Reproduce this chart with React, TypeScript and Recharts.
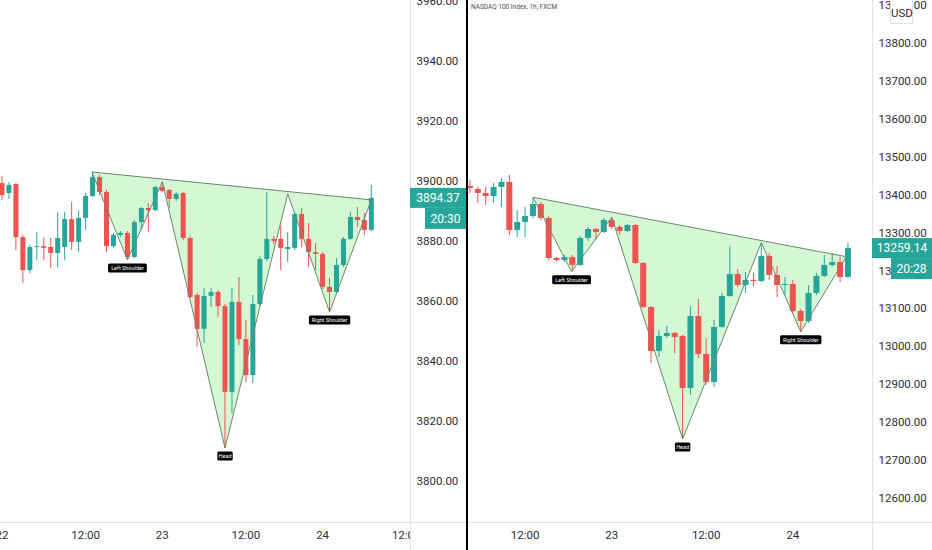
import React from "react";
import { ComposedChart, Bar, Scatter, XAxis, YAxis, ReferenceLine } from "recharts";

type Ohlc = [number, number, number, number];

const TEAL = "#26a69a";
const RED = "#ef5350";
const FILL = "#d4f7d4";
const LINE = "#6b876b";
const TEXT = "#2a2e39";
const FONT = "Roboto, 'Liberation Sans', sans-serif";

// left pane: 1h candles, 22-24 Feb (open, high, low, close)
const spxCandles: Ohlc[] = [
  [3899.3, 3901.7, 3893.7, 3895.3],
  [3896.0, 3899.7, 3894.0, 3898.7],
  [3899.0, 3899.3, 3877.0, 3881.3],
  [3881.3, 3882.0, 3866.0, 3870.3],
  [3870.3, 3878.7, 3869.3, 3878.0],
  [3878.0, 3883.0, 3873.7, 3878.3],
  [3878.3, 3881.3, 3873.7, 3877.7],
  [3878.0, 3881.0, 3871.0, 3876.0],
  [3876.0, 3889.7, 3871.3, 3881.0],
  [3878.0, 3889.7, 3873.7, 3887.3],
  [3887.3, 3893.0, 3877.0, 3879.7],
  [3879.7, 3890.3, 3876.3, 3887.7],
  [3887.7, 3896.0, 3883.7, 3895.0],
  [3895.0, 3903.0, 3894.7, 3901.3],
  [3901.3, 3902.0, 3895.3, 3896.3],
  [3896.3, 3897.0, 3876.3, 3878.3],
  [3878.3, 3882.7, 3877.7, 3882.0],
  [3882.0, 3883.3, 3881.3, 3882.7],
  [3882.7, 3883.3, 3873.7, 3874.7],
  [3874.7, 3887.0, 3874.3, 3886.3],
  [3886.3, 3891.3, 3883.7, 3891.0],
  [3891.0, 3892.7, 3883.0, 3890.3],
  [3890.3, 3898.3, 3890.0, 3898.0],
  [3898.0, 3899.7, 3896.3, 3896.7],
  [3897.0, 3897.3, 3891.0, 3894.0],
  [3894.0, 3896.3, 3893.3, 3895.7],
  [3896.0, 3896.3, 3880.3, 3881.0],
  [3881.0, 3881.7, 3861.0, 3861.3],
  [3862.0, 3862.7, 3844.7, 3850.7],
  [3850.7, 3864.3, 3846.0, 3861.7],
  [3861.7, 3864.3, 3858.0, 3863.0],
  [3863.0, 3863.7, 3854.7, 3858.3],
  [3858.3, 3859.0, 3811.0, 3829.7],
  [3829.7, 3864.3, 3822.7, 3859.7],
  [3859.7, 3868.0, 3845.3, 3847.3],
  [3847.3, 3853.7, 3833.0, 3835.3],
  [3835.3, 3862.0, 3832.7, 3859.0],
  [3859.0, 3875.0, 3858.3, 3874.0],
  [3874.0, 3896.3, 3873.3, 3880.7],
  [3880.7, 3881.7, 3879.0, 3880.0],
  [3880.7, 3885.3, 3870.3, 3877.7],
  [3877.3, 3883.0, 3873.0, 3878.0],
  [3877.7, 3889.7, 3877.0, 3889.0],
  [3889.0, 3891.0, 3878.0, 3880.7],
  [3880.7, 3886.0, 3871.3, 3876.3],
  [3876.3, 3879.3, 3870.3, 3875.7],
  [3875.7, 3876.3, 3864.0, 3864.7],
  [3864.7, 3867.7, 3856.3, 3863.0],
  [3863.0, 3874.3, 3862.7, 3872.0],
  [3872.0, 3881.3, 3871.3, 3880.7],
  [3880.7, 3889.7, 3880.3, 3888.0],
  [3888.0, 3891.3, 3884.7, 3887.0],
  [3887.0, 3889.3, 3882.0, 3883.7],
  [3883.7, 3898.7, 3883.3, 3894.37],
];
// [bar index, price] of the drawn pattern
const spxPattern: [number, number][] = [
  [12.9, 3903.0], [18, 3873.7], [23, 3899.7], [32, 3811.0], [41, 3895.7], [47, 3856.3], [53, 3893.7],
];
const spxTimeTicks = [0, 12, 23, 35, 46, 58];
const spxTimeLabels = ["22", "12:00", "23", "12:00", "24", "12:00"];
const spxPriceTicks = [3800, 3820, 3840, 3860, 3880, 3900, 3920, 3940, 3960];

// right pane: NASDAQ 100 Index, 1h, FXCM
const ndxCandles: Ohlc[] = [
  [13422.9, 13438.7, 13404.4, 13417.6],
  [13415.0, 13420.3, 13378.1, 13404.4],
  [13404.4, 13420.3, 13372.8, 13396.5],
  [13396.5, 13430.8, 13378.1, 13420.3],
  [13420.3, 13444.0, 13367.5, 13433.4],
  [13433.4, 13451.9, 13293.7, 13306.9],
  [13306.9, 13359.6, 13288.4, 13328.0],
  [13328.0, 13367.5, 13288.4, 13343.8],
  [13343.8, 13391.2, 13338.5, 13375.4],
  [13375.4, 13380.7, 13333.2, 13338.5],
  [13338.5, 13343.8, 13227.7, 13233.0],
  [13233.0, 13235.7, 13222.5, 13227.7],
  [13227.7, 13240.9, 13222.5, 13235.7],
  [13235.7, 13240.9, 13198.7, 13214.6],
  [13214.6, 13291.0, 13211.9, 13285.8],
  [13285.8, 13314.8, 13277.9, 13309.5],
  [13309.5, 13312.1, 13280.5, 13301.6],
  [13301.6, 13338.5, 13298.9, 13333.2],
  [13333.2, 13341.1, 13309.5, 13314.8],
  [13314.8, 13320.0, 13293.7, 13304.2],
  [13304.2, 13322.7, 13301.6, 13320.0],
  [13320.0, 13322.7, 13217.2, 13219.8],
  [13219.8, 13222.5, 13101.2, 13103.8],
  [13103.8, 13106.4, 12956.1, 12987.8],
  [12987.8, 13043.1, 12972.0, 13027.3],
  [13027.3, 13053.7, 13022.0, 13035.2],
  [13035.2, 13037.9, 12982.5, 13024.7],
  [13027.3, 13030.0, 12755.7, 12890.2],
  [12890.2, 13106.4, 12871.8, 13080.1],
  [13080.1, 13124.9, 12969.3, 12979.9],
  [12979.9, 13022.0, 12898.2, 12906.0],
  [12906.0, 13069.5, 12892.9, 13051.1],
  [13051.1, 13140.7, 13048.4, 13132.8],
  [13132.8, 13264.7, 13130.2, 13190.8],
  [13190.8, 13204.0, 13156.5, 13161.8],
  [13161.8, 13196.1, 13140.7, 13175.0],
  [13175.0, 13193.5, 13159.2, 13172.4],
  [13172.4, 13272.6, 13169.7, 13238.3],
  [13238.3, 13246.2, 13175.0, 13188.2],
  [13188.2, 13211.9, 13130.2, 13161.8],
  [13161.8, 13182.9, 13135.4, 13164.5],
  [13164.5, 13175.0, 13088.0, 13093.3],
  [13093.3, 13098.5, 13037.9, 13066.9],
  [13066.9, 13161.8, 13061.6, 13140.7],
  [13140.7, 13193.5, 13135.4, 13185.6],
  [13185.6, 13240.9, 13182.9, 13214.6],
  [13214.6, 13246.2, 13209.3, 13222.5],
  [13222.5, 13235.7, 13169.7, 13182.9],
  [13182.9, 13272.6, 13180.3, 13259.14],
];
const ndxPattern: [number, number][] = [
  [8.0, 13393.1], [12.9, 13196.9], [18.0, 13340.3], [27.0, 12755.7], [37.0, 13273.4], [42.0, 13038.7], [47.8, 13236.4],
];
const ndxTimeTicks = [7, 18, 30, 41];
const ndxTimeLabels = ["12:00", "23", "12:00", "24"];
const ndxPriceTicks = [12600, 12700, 12800, 12900, 13000, 13100, 13200, 13300, 13400, 13500, 13600, 13700, 13800, 13900];

const patternLabels = ["", "Left Shoulder", "", "Head", "", "Right Shoulder", ""];

function Candle(props: any) {
  const { x, y, width, height, payload, bodyWidth } = props;
  if (!payload) return null;
  const top = Math.min(y, y + height);
  const bottom = Math.max(y, y + height);
  const { o, h, l, c } = payload;
  const span = h - l || 1;
  const toY = (v: number) => top + ((h - v) / span) * (bottom - top);
  const cx = x + width / 2;
  const color = c >= o ? TEAL : RED;
  const bTop = toY(Math.max(o, c));
  const bBot = toY(Math.min(o, c));
  return (
    <g>
      <line x1={cx} x2={cx} y1={top} y2={bottom} stroke={color} strokeWidth={1} />
      <rect x={cx - bodyWidth / 2} y={bTop} width={bodyWidth} height={Math.max(1, bBot - bTop)} fill={color} />
    </g>
  );
}

function PatternPath(props: any) {
  const pts = props.points || [];
  if (!pts.length) return null;
  const d = pts.map((p: any, k: number) => `${k ? "L" : "M"}${p.x},${p.y}`).join(" ") + " Z";
  if (props.mode === "fill") return <path d={d} fill={FILL} stroke="none" />;
  return <path d={d} fill="none" stroke={LINE} strokeWidth={1} strokeLinejoin="round" />;
}

function PatternMark(props: any) {
  const { cx, cy, payload } = props;
  const text = payload && payload.label;
  if (!text) return <g />;
  const w = text.length * 2.6 + 5;
  return (
    <g>
      <rect x={cx - w / 2} y={cy + 3.5} width={w} height={9} rx={1.5} fill="#000" />
      <text x={cx} y={cy + 8} dy="0.35em" textAnchor="middle" fill="#fff" fontSize={5.5} fontFamily={FONT}>
        {text}
      </text>
    </g>
  );
}

function PriceTag(props: any) {
  const { viewBox, price, countdown, axisWidth } = props;
  if (!viewBox) return null;
  const right = viewBox.x + viewBox.width;
  const cy = viewBox.y;
  const cw = 41;
  return (
    <g>
      <rect x={right} y={cy - 10} width={axisWidth} height={20} fill={TEAL} />
      <text x={right + axisWidth / 2} y={cy} dy="0.36em" textAnchor="middle" fill="#fff" fontSize={12} fontFamily={FONT}>
        {price.toFixed(2)}
      </text>
      <rect x={right + axisWidth - cw} y={cy + 10} width={cw} height={21} fill={TEAL} />
      <text x={right + axisWidth - cw / 2} y={cy + 20.5} dy="0.36em" textAnchor="middle" fill="#fff" fontSize={12} fontFamily={FONT}>
        {countdown}
      </text>
    </g>
  );
}

interface PanelProps {
  id: string;
  candles: Ohlc[];
  pattern: [number, number][];
  timeTicks: number[];
  timeLabels: string[];
  priceTicks: number[];
  xDomain: [number, number];
  yDomain: [number, number];
  width: number;
  axisWidth: number;
  bodyWidth: number;
  countdown: string;
}

function CandlePanel(p: PanelProps) {
  const data = p.candles.map((k, i) => ({ i, range: [k[2], k[1]], o: k[0], h: k[1], l: k[2], c: k[3] }));
  const marks = p.pattern.map(([i, v], k) => ({ i, v, label: patternLabels[k] }));
  const last = p.candles[p.candles.length - 1][3];
  const plotWidth = p.width - p.axisWidth;
  const clipId = `${p.id}-time`;

  return (
    <ComposedChart width={p.width} height={550} data={data} margin={{ top: 0, right: 0, bottom: 0, left: 0 }}>
      <defs>
        <clipPath id={clipId}>
          <rect x={0} y={0} width={plotWidth} height={550} />
        </clipPath>
      </defs>
      <XAxis
        type="number"
        dataKey="i"
        domain={p.xDomain}
        allowDataOverflow
        ticks={p.timeTicks}
        interval={0}
        height={28}
        axisLine={false}
        tickLine={false}
        tickSize={6}
        tickMargin={3}
        tick={(t: any) => (
          <text
            x={t.x}
            y={t.y}
            dy="0.71em"
            textAnchor="middle"
            fill={TEXT}
            fontSize={11.5}
            fontFamily={FONT}
            clipPath={`url(#${clipId})`}
          >
            {p.timeLabels[p.timeTicks.indexOf(t.payload.value)]}
          </text>
        )}
      />
      <YAxis
        orientation="right"
        type="number"
        domain={p.yDomain}
        allowDataOverflow
        ticks={p.priceTicks}
        interval={0}
        width={p.axisWidth}
        axisLine={false}
        tickLine={false}
        tickSize={4}
        tickMargin={2.5}
        tick={{ fill: TEXT, fontSize: 11.5, fontFamily: FONT, textAnchor: "start" }}
        tickFormatter={(v: number) => v.toFixed(2)}
      />
      <Scatter
        data={marks}
        dataKey="v"
        line={<PatternPath mode="fill" />}
        lineType="joint"
        shape={() => <g />}
        isAnimationActive={false}
        zIndex={50}
      />
      <Bar
        dataKey="range"
        barSize={p.bodyWidth}
        isAnimationActive={false}
        shape={(s: any) => <Candle {...s} bodyWidth={p.bodyWidth} />}
      />
      <Scatter
        data={marks}
        dataKey="v"
        line={<PatternPath mode="stroke" />}
        lineType="joint"
        shape={(s: any) => <PatternMark {...s} />}
        isAnimationActive={false}
        zIndex={700}
      />
      <ReferenceLine
        y={last}
        stroke="none"
        zIndex={2000}
        label={<PriceTag price={last} countdown={p.countdown} axisWidth={p.axisWidth} />}
      />
    </ComposedChart>
  );
}

export default function App() {
  const rule = "#e0e3eb";
  return (
    <div style={{ position: "absolute", left: 0, top: 0, width: 932, height: 550, background: "#fff", overflow: "hidden", fontFamily: FONT }}>
      <div style={{ position: "absolute", left: 410, top: 0, width: 1, height: 550, background: rule }} />
      <div style={{ position: "absolute", left: 872, top: 0, width: 1, height: 550, background: rule }} />
      <div style={{ position: "absolute", left: 0, top: 522, width: 932, height: 1, background: rule }} />

      <div style={{ position: "absolute", left: 0, top: 0 }}>
        <CandlePanel
          id="spx"
          candles={spxCandles}
          pattern={spxPattern}
          timeTicks={spxTimeTicks}
          timeLabels={spxTimeLabels}
          priceTicks={spxPriceTicks}
          xDomain={[-0.287, 58.54]}
          yDomain={[3786.33, 3960.33]}
          width={466}
          axisWidth={56}
          bodyWidth={5}
          countdown="20:30"
        />
      </div>
      <div style={{ position: "absolute", left: 468, top: 0 }}>
        <CandlePanel
          id="ndx"
          candles={ndxCandles}
          pattern={ndxPattern}
          timeTicks={ndxTimeTicks}
          timeLabels={ndxTimeLabels}
          priceTicks={ndxPriceTicks}
          xDomain={[-0.254, 51.05]}
          yDomain={[12536.7, 13913.4]}
          width={464}
          axisWidth={60}
          bodyWidth={6}
          countdown="20:28"
        />
      </div>

      <div style={{ position: "absolute", left: 466, top: 0, width: 2, height: 550, background: "#000" }} />
      <div style={{ position: "absolute", left: 471, top: 3, fontSize: 6.5, color: "#4a4e59", whiteSpace: "nowrap" }}>
        NASDAQ 100 Index, 1h, FXCM
      </div>
      <div
        style={{
          position: "absolute",
          left: 890,
          top: -1,
          width: 23,
          height: 25,
          boxSizing: "border-box",
          border: `1px solid ${rule}`,
          background: "#fff",
          color: TEXT,
          fontSize: 11.5,
          lineHeight: "27px",
          textAlign: "center",
        }}
      >
        USD
      </div>
    </div>
  );
}
